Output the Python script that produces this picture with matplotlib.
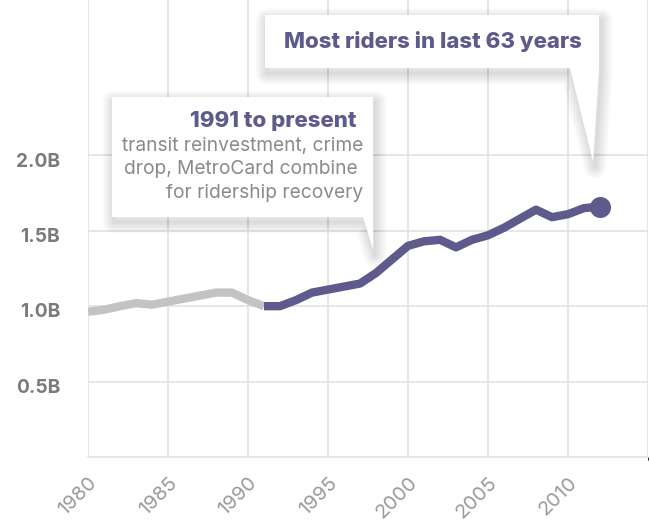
import matplotlib
matplotlib.use("Agg")
import matplotlib.pyplot as plt
import matplotlib.transforms as mtransforms
from matplotlib.patches import Polygon

years_early = [1980, 1981, 1982, 1983, 1984, 1985, 1986, 1987, 1988, 1989, 1990, 1991]
riders_early = [0.963, 0.976, 1.00, 1.02, 1.01, 1.03, 1.05, 1.07, 1.09, 1.09, 1.04, 1.00]

years_late = [1991, 1992, 1993, 1994, 1995, 1996, 1997, 1998, 1999, 2000, 2001,
              2002, 2003, 2004, 2005, 2006, 2007, 2008, 2009, 2010, 2011, 2012]
riders_late = [1.00, 1.00, 1.04, 1.09, 1.11, 1.13, 1.15, 1.22, 1.31, 1.40, 1.43,
               1.44, 1.39, 1.44, 1.47, 1.52, 1.58, 1.64, 1.59, 1.61, 1.65, 1.66]

y_ticks = [0.5, 1.0, 1.5, 2.0]
y_labels = ['0.5B', '1.0B', '1.5B', '2.0B']
x_ticks = [1980, 1985, 1990, 1995, 2000, 2005, 2010]

purple = '#5e5a8c'
gray_line = '#c3c3c3'
text_gray = '#8a8a8a'
grid_c = '#e2e2e2'

plt.rcParams['font.family'] = ['Inter', 'DejaVu Sans']

W, H = 650, 522
fig = plt.figure(figsize=(6.5, 5.22), dpi=100)
ax = fig.add_axes([88 / W, (H - 457) / H, 560 / W, 457 / H])

ax.plot(years_early, riders_early, color=gray_line, lw=6, solid_capstyle='butt', zorder=3)
ax.plot(years_late, riders_late, color=purple, lw=6, solid_capstyle='butt',
        solid_joinstyle='round', zorder=4)
ax.scatter([years_late[-1]], [riders_late[-1]], s=200, color=purple, zorder=5)

ax.set_xlim(1980, 2015)
ax.set_ylim(0, 3.03)
ax.set_yticks(y_ticks)
ax.set_yticklabels(y_labels, fontsize=13.8, fontweight='bold', color='#7b7b7b')
ax.set_xticks(x_ticks)
ax.set_xticklabels([str(x) for x in x_ticks], rotation=45, ha='right',
                   rotation_mode='anchor', fontsize=14.5, color='#9a9a9a')
ax.set_xticks(range(1980, 2016, 5), minor=True)
ax.tick_params(length=0, pad=12)
ax.tick_params(axis='y', pad=20)
ax.grid(True, which='both', color=grid_c, lw=1.2)
ax.set_axisbelow(True)
for s in ['top', 'right', 'left']:
    ax.spines[s].set_visible(False)
ax.spines['bottom'].set_color(grid_c)
ax.spines['bottom'].set_linewidth(1.2)

shift = mtransforms.ScaledTranslation(0, -3 / 72, fig.dpi_scale_trans)
for lbl in ax.get_yticklabels():
    lbl.set_transform(lbl.get_transform() + shift)


def px(pts):
    return [(x / W, 1 - y / H) for x, y in pts]


def callout(pts):
    # soft shadow: stacked transparent strokes around an offset outline
    for i in range(12, 0, -1):
        sh = [(x + 2, y + 5) for x, y in pts]
        fig.patches.append(Polygon(px(sh), closed=True, transform=fig.transFigure,
                                   facecolor='none', edgecolor='black', lw=i * 1.4,
                                   alpha=0.012, joinstyle='round', zorder=5))
    fig.patches.append(Polygon(px(pts), closed=True, transform=fig.transFigure,
                               facecolor='white', edgecolor='none', zorder=6))


callout([(112, 97), (373, 97), (373, 250), (363, 217), (112, 217)])
callout([(265, 15), (599, 15), (599, 68), (593, 162), (570, 68), (265, 68)])

fig.text(357 / W, 1 - 121 / H, '1991 to present', ha='right', va='center',
         fontsize=16, fontweight='heavy', color=purple, zorder=7)
for i, line in enumerate(['transit reinvestment, crime', 'drop, MetroCard combine ',
                          'for ridership recovery']):
    fig.text(363 / W, 1 - (146 + 23.5 * i) / H, line, ha='right', va='center',
             fontsize=13.8, color=text_gray, zorder=7)

fig.text(433 / W, 1 - 41 / H, 'Most riders in last 63 years', ha='center', va='center',
         fontsize=16, fontweight='heavy', color=purple, zorder=7)

fig.savefig('out.png', dpi=100)
